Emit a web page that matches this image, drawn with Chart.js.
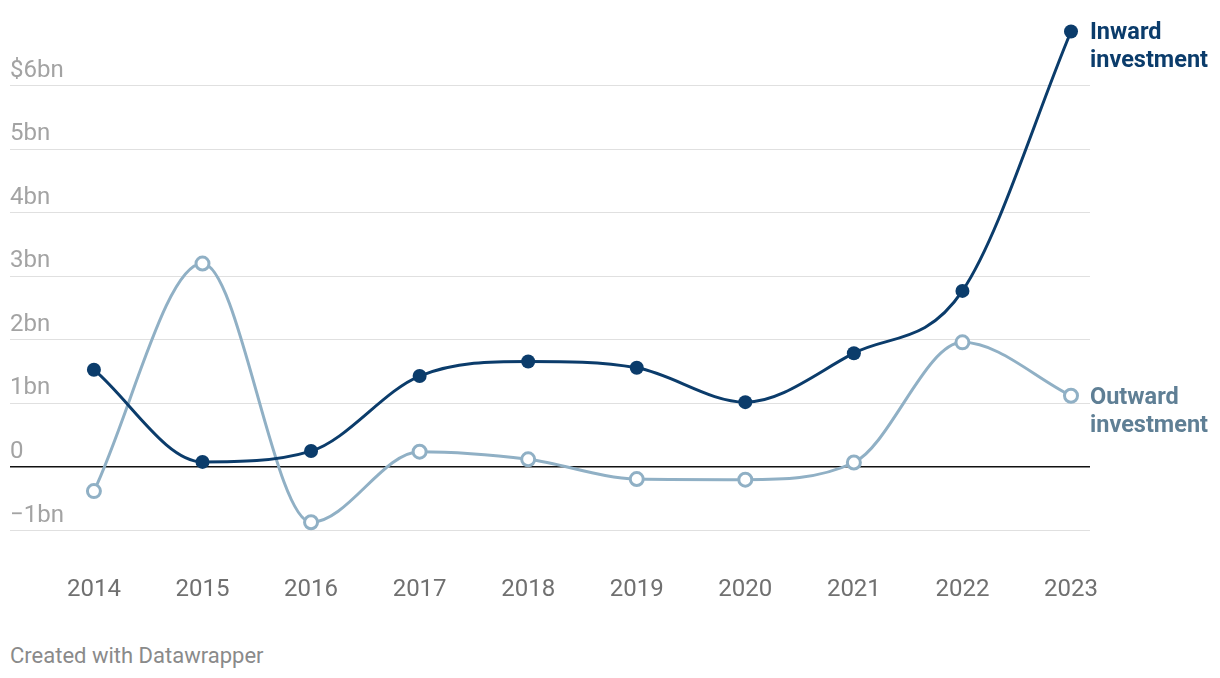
<!DOCTYPE html>
<html>
<head>
<meta charset="utf-8">
<script src="https://cdn.jsdelivr.net/npm/chart.js@4"></script>
<style>
  body { margin: 0; background: #fff; font-family: Roboto, sans-serif; }
  #wrap { position: absolute; left: 0; top: 0; width: 1220px; height: 620px; }
  #credit { position: absolute; left: 10px; top: 643px; font-size: 22px; color: #8a8a8a; }
</style>
</head>
<body>
<div id="wrap"><canvas id="chart"></canvas></div>
<div id="credit">Created with Datawrapper</div>
<script>
const years = [2014, 2015, 2016, 2017, 2018, 2019, 2020, 2021, 2022, 2023];
const inward = [1.53, 0.08, 0.25, 1.43, 1.66, 1.56, 1.02, 1.79, 2.77, 6.85];
const outward = [-0.38, 3.2, -0.87, 0.24, 0.12, -0.19, -0.2, 0.07, 1.96, 1.12];
const yTicks = [-1, 0, 1, 2, 3, 4, 5, 6];
const yTickLabels = ["\u22121bn", "0", "1bn", "2bn", "3bn", "4bn", "5bn", "$6bn"];
const seriesNames = [["Inward", "investment"], ["Outward", "investment"]];

const navy = "#0b3c6b";
const pale = "#90b0c5";

// y tick labels sit above the gridlines, left-aligned
const yLabelPlugin = {
  id: "yLabels",
  afterDraw(chart) {
    const { ctx, scales: { y } } = chart;
    ctx.save();
    ctx.font = "24px Roboto";
    ctx.fillStyle = "#a3a3a3";
    ctx.textAlign = "left";
    ctx.textBaseline = "alphabetic";
    yTicks.forEach((v, i) => {
      ctx.fillText(yTickLabels[i], 10, y.getPixelForValue(v) - 9);
    });
    ctx.restore();
  }
};

// series names next to the last point
const endLabelPlugin = {
  id: "endLabels",
  afterDatasetsDraw(chart) {
    const ctx = chart.ctx;
    ctx.save();
    ctx.font = "bold 23.5px Roboto";
    ctx.textAlign = "left";
    ctx.textBaseline = "middle";
    chart.data.datasets.forEach((ds, i) => {
      const pts = chart.getDatasetMeta(i).data;
      const p = pts[pts.length - 1];
      ctx.fillStyle = ds.labelColor;
      seriesNames[i].forEach((line, j) => {
        ctx.fillText(line, p.x + 19, p.y + 2 + j * 28);
      });
    });
    ctx.restore();
  }
};

new Chart(document.getElementById("chart"), {
  type: "line",
  data: {
    datasets: [
      {
        label: "Inward investment",
        data: years.map((yr, i) => ({ x: yr, y: inward[i] })),
        borderColor: navy,
        backgroundColor: navy,
        pointBackgroundColor: navy,
        pointBorderColor: navy,
        pointRadius: 7,
        pointBorderWidth: 0,
        borderWidth: 3,
        cubicInterpolationMode: "monotone",
        labelColor: navy,
        clip: false
      },
      {
        label: "Outward investment",
        data: years.map((yr, i) => ({ x: yr, y: outward[i] })),
        borderColor: pale,
        backgroundColor: "#fff",
        pointBackgroundColor: "#fff",
        pointBorderColor: pale,
        pointRadius: 6.5,
        pointBorderWidth: 3,
        borderWidth: 3,
        cubicInterpolationMode: "monotone",
        labelColor: "#5f7f95",
        clip: false
      }
    ]
  },
  options: {
    responsive: true,
    maintainAspectRatio: false,
    animation: false,
    layout: { padding: { left: 10, right: 130, top: 22, bottom: 0 } },
    plugins: { legend: { display: false }, tooltip: { enabled: false } },
    scales: {
      x: {
        type: "linear",
        min: 2013.227,
        max: 2023.175,
        afterBuildTicks: (s) => { s.ticks = years.map((v) => ({ value: v })); },
        afterFit: (s) => { s.height = 70.4; },
        grid: { display: false, drawTicks: false },
        border: { display: false },
        ticks: {
          padding: 26,
          color: "#707070",
          font: { family: "Roboto", size: 24 },
          callback: (v) => String(v),
          autoSkip: false,
          maxRotation: 0
        }
      },
      y: {
        min: -1.3,
        max: 7.0,
        afterBuildTicks: (s) => { s.ticks = yTicks.map((v) => ({ value: v })); },
        afterFit: (s) => { s.width = 0; },
        grid: {
          drawTicks: false,
          color: (c) => (c.tick && c.tick.value === 0 ? "#111" : "#e0e0e0"),
          lineWidth: (c) => (c.tick && c.tick.value === 0 ? 1.6 : 1)
        },
        border: { display: false },
        ticks: { display: false }
      }
    }
  },
  plugins: [yLabelPlugin, endLabelPlugin]
});
</script>
</body>
</html>
